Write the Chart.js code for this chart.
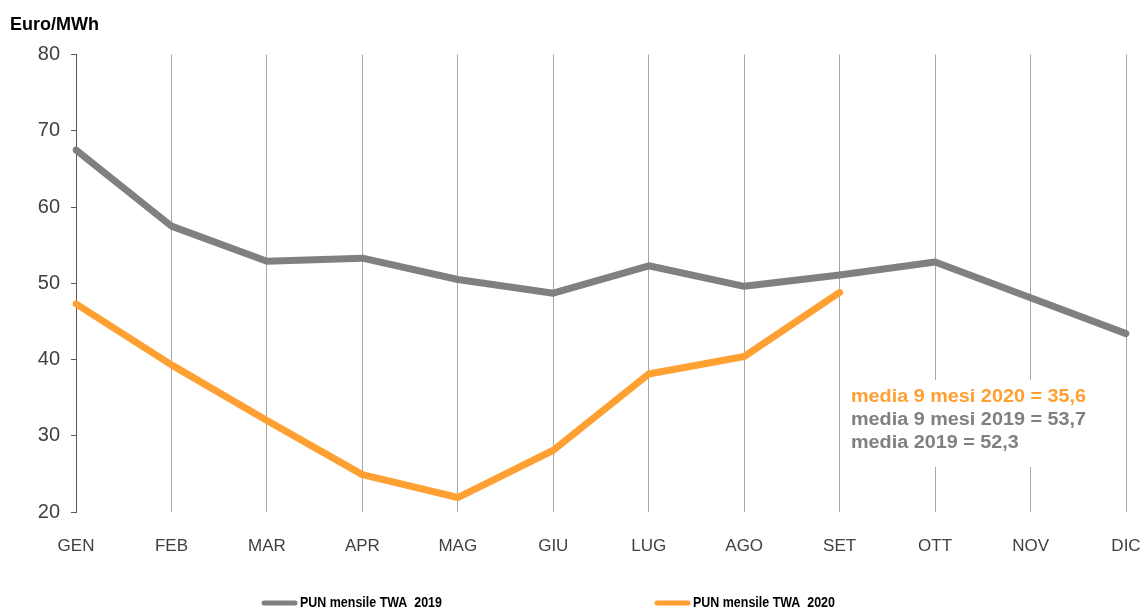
<!DOCTYPE html>
<html>
<head>
<meta charset="utf-8">
<script src="https://cdn.jsdelivr.net/npm/chart.js@4/dist/chart.umd.min.js"></script>
<style>
  html, body { margin: 0; padding: 0; background: #ffffff; }
  #wrap { width: 1144px; height: 610px; position: relative; }
</style>
</head>
<body>
<div id="wrap"><canvas id="c"></canvas></div>
<script>
// ---- data ----
const months = ['GEN','FEB','MAR','APR','MAG','GIU','LUG','AGO','SET','OTT','NOV','DIC'];
const pun2019 = [67.5, 57.5, 52.9, 53.3, 50.5, 48.7, 52.3, 49.6, 51.1, 52.8, 48.1, 43.4];
const pun2020 = [47.3, 39.3, 32.0, 24.9, 21.9, 28.1, 38.1, 40.4, 48.8];
const seriesLabels = ['PUN mensile TWA  2019', 'PUN mensile TWA  2020'];
const yTicks = [20, 30, 40, 50, 60, 70, 80];
const unitLabel = 'Euro/MWh';
const notes = ['media 9 mesi 2020 = 35,6', 'media 9 mesi 2019 = 53,7', 'media 2019 = 52,3'];

const GRAY = '#808080';
const ORANGE = '#FFA033';

const notePlugin = {
  id: 'notes',
  beforeDatasetsDraw(chart) {
    const ctx = chart.ctx;
    ctx.save();
    ctx.fillStyle = '#ffffff';
    ctx.fillRect(845, 380, 265, 87);
    ctx.restore();
  },
  afterDraw(chart) {
    const ctx = chart.ctx;
    // annotation text
    const colors = [ORANGE, GRAY, GRAY];
    const ys = [397, 420, 443];
    notes.forEach((t, i) => {
      ctx.save();
      ctx.font = 'bold 18px "Liberation Sans", Arial, sans-serif';
      ctx.textBaseline = 'middle';
      ctx.textAlign = 'left';
      ctx.translate(851, ys[i]);
      ctx.scale(1.1, 1);
      ctx.fillStyle = colors[i];
      ctx.fillText(t, 0, 0);
      ctx.restore();
    });
    // legend
    const legendX = [262, 655];
    chart.data.datasets.forEach((ds, i) => {
      const x = legendX[i];
      const y = 603;
      ctx.save();
      ctx.strokeStyle = ds.borderColor;
      ctx.lineWidth = 5;
      ctx.lineCap = 'round';
      ctx.beginPath();
      ctx.moveTo(x + 2, y);
      ctx.lineTo(x + 33, y);
      ctx.stroke();
      ctx.fillStyle = '#000000';
      ctx.font = 'bold 14px "Liberation Sans Narrow", "Liberation Sans", Arial, sans-serif';
      ctx.textBaseline = 'middle';
      ctx.translate(x + 38, y);
      ctx.scale(0.89, 1);
      ctx.fillText(ds.label, 0, 0);
      ctx.restore();
    });
  }
};

new Chart(document.getElementById('c'), {
  type: 'line',
  data: {
    labels: months,
    datasets: [
      {
        label: seriesLabels[0],
        data: pun2019,
        borderColor: GRAY,
        backgroundColor: GRAY,
        borderWidth: 7,
        borderCapStyle: 'round',
        borderJoinStyle: 'round',
        pointRadius: 0,
        tension: 0
      },
      {
        label: seriesLabels[1],
        data: pun2020,
        borderColor: ORANGE,
        backgroundColor: ORANGE,
        borderWidth: 7,
        borderCapStyle: 'round',
        borderJoinStyle: 'round',
        pointRadius: 0,
        tension: 0
      }
    ]
  },
  options: {
    responsive: true,
    maintainAspectRatio: false,
    animation: false,
    layout: { padding: { left: 10, right: 18, top: 0, bottom: 0 } },
    plugins: {
      legend: { display: false },
      tooltip: { enabled: false },
      title: {
        display: true,
        text: unitLabel,
        align: 'start',
        color: '#000000',
        font: { family: '"Liberation Sans", Arial, sans-serif', size: 18, weight: 'bold' },
        padding: { top: 14, bottom: 19 }
      }
    },
    scales: {
      x: {
        offset: false,
        afterFit(scale) { scale.height = 98; scale.paddingLeft = 0; scale.paddingRight = 0; },
        grid: {
          display: true,
          drawOnChartArea: true,
          drawTicks: false,
          color: '#A6A6A6',
          lineWidth: 1
        },
        border: { display: false },
        ticks: {
          padding: 24,
          color: '#404040',
          font: { family: '"Liberation Sans", Arial, sans-serif', size: 17 },
          maxRotation: 0,
          autoSkip: false
        }
      },
      y: {
        min: 20,
        max: 80,
        afterFit(scale) { scale.width = 66; },
        afterBuildTicks(scale) { scale.ticks = yTicks.map(v => ({ value: v })); },
        grid: {
          display: true,
          drawOnChartArea: false,
          drawTicks: true,
          tickLength: 5,
          color: '#595959',
          lineWidth: 1
        },
        border: { display: true, color: '#595959', width: 1 },
        ticks: {
          padding: 11,
          color: '#404040',
          font: { family: '"Liberation Sans", Arial, sans-serif', size: 20 }
        }
      }
    }
  },
  plugins: [notePlugin]
});
</script>
</body>
</html>
